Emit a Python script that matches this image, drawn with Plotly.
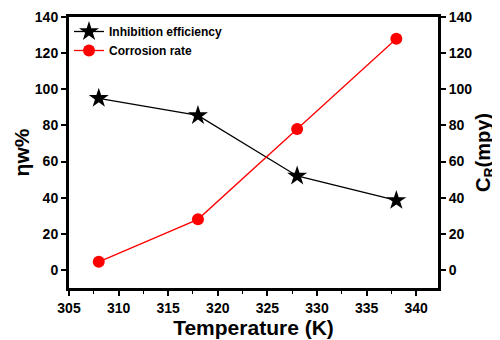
import plotly.graph_objects as go

temperature = [308, 318, 328, 338]
inhibition_efficiency = [95, 85.5, 52, 38.5]
corrosion_rate = [4.5, 28, 78, 128]
x_ticks = [305, 310, 315, 320, 325, 330, 335, 340]
y_ticks = [0, 20, 40, 60, 80, 100, 120, 140]

FONT = "Liberation Sans, Arial, sans-serif"

fig = go.Figure()
fig.add_trace(go.Scatter(
    x=temperature, y=inhibition_efficiency, name="<b>Inhibition efficiency</b>",
    mode="lines+markers", line=dict(color="black", width=1.3),
    marker=dict(symbol="star", size=15, color="black"), yaxis="y"))
fig.add_trace(go.Scatter(
    x=temperature, y=corrosion_rate, name="<b>Corrosion rate</b>",
    mode="lines+markers", line=dict(color="#ff0000", width=1.3),
    marker=dict(symbol="circle", size=12, color="#ff0000"), yaxis="y2"))

axis_common = dict(showline=True, linecolor="black", linewidth=3, ticks="outside",
                   ticklen=5, tickwidth=2, tickcolor="black", showgrid=False, zeroline=False,
                   automargin=False,
                   tickfont=dict(family=FONT, size=14, color="black", weight="bold"))

# page body has an 8px margin, so the visible figure is 492x332 offset by 8px
fig.update_layout(
    width=492, height=332,
    margin=dict(l=61, r=62, t=9, b=52),
    plot_bgcolor="white", paper_bgcolor="white",
    font=dict(family=FONT, color="black"),
    xaxis=dict(range=[305, 342.2], tickvals=x_ticks, ticktext=[f"<b>{v}</b>" for v in x_ticks],
               mirror=True,
               minor=dict(ticks="outside", ticklen=3, tickwidth=1, dtick=2.5, tick0=305, tickcolor="black"),
               title=dict(text="<b>Temperature (K)</b>", font=dict(family=FONT, size=21, color="black"), standoff=0),
               **axis_common),
    yaxis=dict(range=[-10, 140], tickvals=y_ticks, ticktext=[f"<b>{v}</b>" for v in y_ticks],
               title=dict(text="<b>ηw%</b>", font=dict(family=FONT, size=21, color="black"), standoff=0),
               **axis_common),
    yaxis2=dict(range=[-10, 140], tickvals=y_ticks, ticktext=[f"<b>{v}</b>" for v in y_ticks],
                overlaying="y", side="right",
                title=dict(text="<b>C<sub>R</sub>(mpy)</b>", font=dict(family=FONT, size=20, color="black"), standoff=5),
                **axis_common),
    legend=dict(x=0.0, y=1.0, xanchor="left", yanchor="top", bgcolor="rgba(0,0,0,0)",
                font=dict(family=FONT, size=12, color="black"), tracegroupgap=0, itemwidth=30),
    showlegend=True,
)

fig.write_html("out.html")
